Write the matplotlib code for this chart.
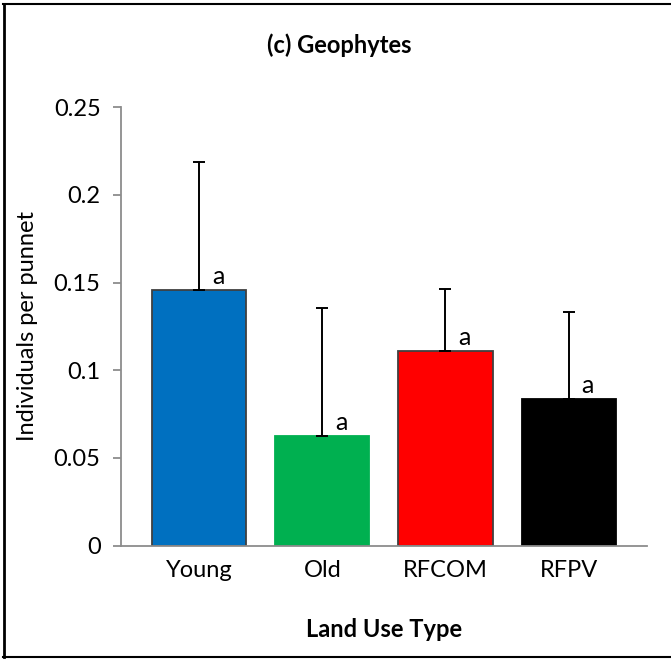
import matplotlib
matplotlib.use("Agg")
from matplotlib import pyplot as plt
from matplotlib.lines import Line2D

plt.rcParams["font.family"] = ["Lato", "DejaVu Sans"]

# Geophyte counts by land use type
categories = ["Young", "Old", "RFCOM", "RFPV"]
means = [0.1458, 0.0625, 0.1112, 0.0836]
errors = [0.0730, 0.0730, 0.0350, 0.0498]
letters = ["a", "a", "a", "a"]
colours = ["#0070C0", "#00B050", "#FF0000", "#000000"]
edges = ["#404040", "#00B050", "#404040", "#000000"]

fig = plt.figure(figsize=(6.71, 6.59), dpi=100)
ax = fig.add_axes([0.1799, 0.1719, 0.7839, 0.6657])

x = range(len(categories))
ax.bar(x, means, width=0.765, color=colours, edgecolor=edges, linewidth=1.3, zorder=2)
ax.errorbar(x, means, yerr=[[0] * len(errors), errors], fmt="none",
            ecolor="black", elinewidth=1.4, capsize=4.5, capthick=1.4, zorder=3)

for xi, m, lab in zip(x, means, letters):
    ax.annotate(lab, (xi, m), xytext=(19, 2), textcoords="offset pixels",
                ha="center", va="bottom", fontsize=18)

ax.set_xlim(-0.637, 3.634)
ax.set_ylim(0, 0.25)
ax.set_yticks([0, 0.05, 0.1, 0.15, 0.2, 0.25])
ax.set_yticklabels(["0", "0.05", "0.1", "0.15", "0.2", "0.25"])
ax.set_xticks(list(x))
ax.set_xticklabels(categories)

for side in ["top", "right"]:
    ax.spines[side].set_visible(False)
for side in ["left", "bottom"]:
    ax.spines[side].set_color("#8C8C8C")
    ax.spines[side].set_linewidth(1.3)
ax.tick_params(axis="y", direction="out", length=5.5, width=1.3, color="#8C8C8C",
               labelsize=17, pad=9)
ax.tick_params(axis="x", length=0, labelsize=17, pad=10)

ax.set_ylabel("Individuals per punnet", fontsize=17, labelpad=11)
ax.set_xlabel("Land Use Type", fontsize=17, fontweight="bold", labelpad=27)
fig.text(0.505, 0.931, "(c) Geophytes", ha="center", va="center",
         fontsize=17, fontweight="bold")

# frame around the chart area
fig.add_artist(Line2D([0.006, 0.006], [0.003, 0.994], color="black", lw=2))
fig.add_artist(Line2D([0.005, 1.0], [0.994, 0.994], color="black", lw=1.5))
fig.add_artist(Line2D([0.005, 1.0], [0.003, 0.003], color="black", lw=1.5))

fig.savefig("out.png", dpi=100)
